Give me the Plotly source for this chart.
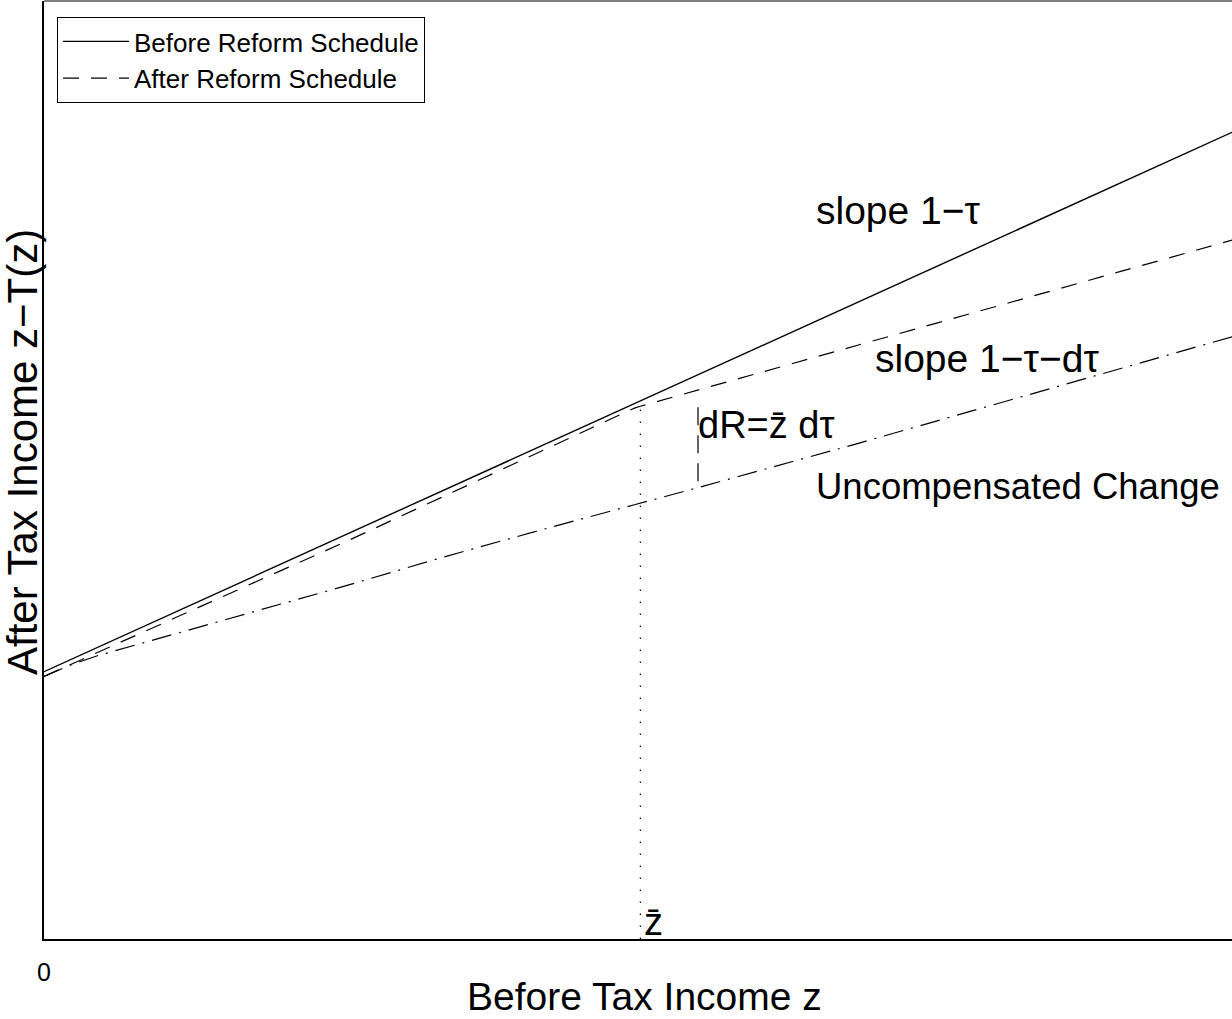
import plotly.graph_objects as go

# Before Tax Income z (0..100 scale) and After Tax Income values
z_before = [0, 100]
y_before = [28.5, 86.0]

z_after = [0, 25.3, 49.7, 50.2, 100]
y_after = [28.0, 42.3, 56.6, 56.8, 74.5]

z_uncomp = [0, 2.2, 4.5, 8.4, 14.1, 19.6, 25.8, 33.3, 41.8, 49.7, 55.0, 68.7, 100]
y_uncomp = [28.0, 29.2, 30.2, 31.6, 33.6, 35.6, 37.8, 40.6, 43.6, 46.3, 48.1, 52.9, 64.2]

z_bar = 50.2
y_bar_top = 56.8
z_dR = 55.05
y_dR = [56.7, 48.1]

FONT = "Liberation Sans, Arial, Helvetica, sans-serif"

fig = go.Figure()
fig.add_trace(go.Scatter(x=z_before, y=y_before, mode="lines", name="Before Reform Schedule",
                         line=dict(color="black", width=1.4)))
fig.add_trace(go.Scatter(x=z_after, y=y_after, mode="lines", name="After Reform Schedule",
                         line=dict(color="black", width=1.2, dash="16px,12px")))
fig.add_trace(go.Scatter(x=z_uncomp, y=y_uncomp, mode="lines", showlegend=False,
                         line=dict(color="black", width=1.2, dash="20px,8px,2px,8px")))
fig.add_trace(go.Scatter(x=[z_bar, z_bar], y=[0, y_bar_top], mode="lines", showlegend=False,
                         line=dict(color="black", width=1.2, dash="1.5px,10.5px")))
fig.add_trace(go.Scatter(x=[z_dR, z_dR], y=y_dR, mode="lines", showlegend=False,
                         line=dict(color="black", width=1.2, dash="18px,10px")))

annotations = [
    dict(x=64.85, y=77.7, text="slope 1−τ", size=39),
    dict(x=69.75, y=61.9, text="slope 1−τ−dτ", size=39),
    dict(x=54.9, y=54.8, text="dR=z̄ dτ", size=38),
    dict(x=64.85, y=48.2, text="Uncompensated Change", size=36.5),
    dict(x=50.3, y=1.8, text="z̄", size=38),
]
for a in annotations:
    s = a.pop("size")
    a.update(xref="x", yref="y", showarrow=False, xanchor="left", yanchor="middle",
             font=dict(family=FONT, size=s, color="black"))

annotations.append(dict(xref="paper", yref="paper", x=(645 - 44) / 1188, y=-(996 - 939) / 938,
                        text="Before Tax Income z", showarrow=False, xanchor="center",
                        yanchor="middle", font=dict(family=FONT, size=39, color="black")))
annotations.append(dict(xref="paper", yref="paper", x=-(44 - 23) / 1188, y=(939 - 452) / 938,
                        text="After Tax Income z−T(z)", showarrow=False, textangle=-90,
                        xanchor="center", yanchor="middle",
                        font=dict(family=FONT, size=42, color="black")))

fig.update_layout(
    width=1232, height=1019,
    margin=dict(l=44, r=0, t=1, b=80),
    paper_bgcolor="white", plot_bgcolor="white",
    showlegend=True,
    legend=dict(x=(57 - 44) / 1188, y=1 - (17 - 1) / 938, xanchor="left", yanchor="top",
                bgcolor="white", bordercolor="black", borderwidth=1,
                font=dict(family=FONT, size=26, color="black"),
                itemwidth=66, tracegroupgap=0),
    annotations=annotations,
    shapes=[dict(type="line", xref="paper", yref="paper", x0=0, x1=1, y0=1, y1=1,
                 line=dict(color="black", width=1))],
)
fig.update_xaxes(range=[0, 100], showgrid=False, zeroline=False, showline=True,
                 linecolor="black", linewidth=2, tickvals=[0], ticktext=["0"], ticks="",
                 tickfont=dict(family=FONT, size=25, color="black"), ticklabelstandoff=10)
fig.update_yaxes(range=[0, 100], showgrid=False, zeroline=False, showline=True,
                 linecolor="black", linewidth=2, showticklabels=False, ticks="")

fig.write_html("out.html")
